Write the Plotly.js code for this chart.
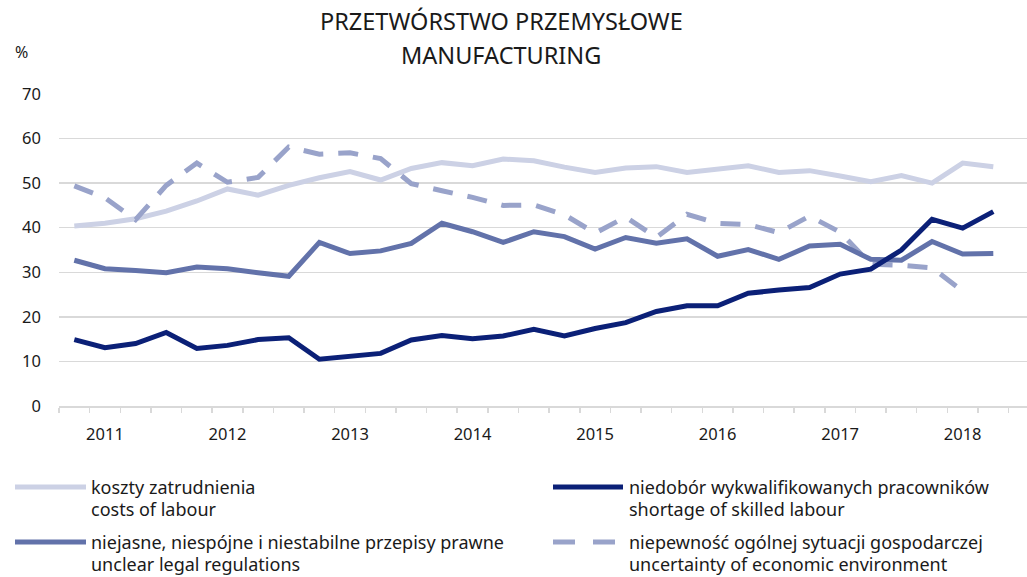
<!DOCTYPE html>
<html>
<head>
<meta charset="utf-8">
<script src="https://cdn.plot.ly/plotly-3.0.1.min.js"></script>
<style>html,body{margin:0;padding:0;background:#fff}#chart{width:1027px;height:577px}</style>
</head>
<body>
<div id="chart"></div>
<script>
// Quarters 2010 Q4 .. 2018 Q2
const quarters = ["2010 Q4",
  "2011 Q1","2011 Q2","2011 Q3","2011 Q4",
  "2012 Q1","2012 Q2","2012 Q3","2012 Q4",
  "2013 Q1","2013 Q2","2013 Q3","2013 Q4",
  "2014 Q1","2014 Q2","2014 Q3","2014 Q4",
  "2015 Q1","2015 Q2","2015 Q3","2015 Q4",
  "2016 Q1","2016 Q2","2016 Q3","2016 Q4",
  "2017 Q1","2017 Q2","2017 Q3","2017 Q4",
  "2018 Q1","2018 Q2"];
const yearLabels = ["2011","2012","2013","2014","2015","2016","2017","2018"];

const costsOfLabour = [40.4,41.0,42.0,43.7,46.0,48.7,47.3,49.5,51.2,52.6,50.7,53.3,54.6,53.9,55.4,55.0,53.6,52.4,53.4,53.7,52.4,53.1,53.9,52.4,52.8,51.6,50.3,51.7,50.0,54.5,53.7];
const skilledShortage = [14.9,13.1,14.0,16.5,12.9,13.6,14.9,15.3,10.5,11.2,11.8,14.8,15.8,15.1,15.7,17.2,15.7,17.4,18.7,21.2,22.5,22.5,25.3,26.0,26.6,29.6,30.7,35.0,41.9,39.9,43.6];
const unclearRegulations = [32.7,30.8,30.4,29.9,31.2,30.8,29.9,29.1,36.7,34.2,34.8,36.5,41.0,39.1,36.7,39.1,38.0,35.2,37.8,36.5,37.5,33.6,35.1,32.9,35.9,36.3,32.9,32.7,36.9,34.1,34.2];
const economicUncertainty = [49.4,46.7,41.8,49.5,54.5,50.2,51.3,58.1,56.5,56.8,55.5,49.9,48.3,46.8,45.0,45.1,42.9,38.8,42.4,37.8,43.0,41.0,40.7,38.9,42.6,39.0,31.8,31.6,31.0,25.8,null];

const titleLines = ["PRZETWÓRSTWO PRZEMYSŁOWE","MANUFACTURING"];
const unitLabel = "%";
const seriesNamesPL = ["koszty zatrudnienia","niedobór wykwalifikowanych pracowników","niejasne, niespójne i niestabilne przepisy prawne","niepewność ogólnej sytuacji gospodarczej"];
const seriesNamesEN = ["costs of labour","shortage of skilled labour","unclear legal regulations","uncertainty of economic environment"];
const seriesColors = ["#ccd1e5","#0b2077","#6272aa","#99a3ca"];
const seriesDash = ["solid","solid","solid","20px,15px"];
const seriesValues = [costsOfLabour, skilledShortage, unclearRegulations, economicUncertainty];

const xIdx = quarters.map((_, i) => i);
const yearTickVals = yearLabels.map(y => quarters.indexOf(y + " Q1"));
const boundaryTicks = quarters.map((_, i) => i - 0.5).concat([quarters.length - 0.5]);

const traces = seriesValues.map((vals, k) => ({
  type: "scatter", mode: "lines", x: xIdx, y: vals,
  name: seriesNamesPL[k],
  line: {color: seriesColors[k], width: 5, dash: seriesDash[k]},
  showlegend: false, hoverinfo: "skip"
}));
const order = [0, 3, 2, 1];
const data = order.map(k => traces[k]);

const W = 1027, H = 577;
const mL = 59, mR = 0, mT = 94, mB = 171;
const pw = W - mL - mR, ph = H - mT - mB;
const px = v => (v - mL) / pw;
const py = v => (H - mB - v) / ph;

const txtColor = "#1a1a1a";
const shapes = [];
const annotations = [];
const legendPos = [
  {k: 0, x0: 15, x1: 86, y: 487, tx: 92},
  {k: 1, x0: 553, x1: 623, y: 487, tx: 630},
  {k: 2, x0: 15, x1: 86, y: 542, tx: 92},
  {k: 3, x0: 553, x1: 623, y: 542, tx: 630}
];
legendPos.forEach(p => {
  shapes.push({type: "line", xref: "paper", yref: "paper",
    x0: px(p.x0), x1: px(p.x1), y0: py(p.y), y1: py(p.y),
    line: {color: seriesColors[p.k], width: 5, dash: p.k === 3 ? "22px,18px" : "solid"}});
  [seriesNamesPL[p.k], seriesNamesEN[p.k]].forEach((t, j) => {
    annotations.push({xref: "paper", yref: "paper", x: px(p.tx - 3), y: py(p.y + j * 21.5),
      xanchor: "left", yanchor: "middle", align: "left", showarrow: false,
      text: t, font: {family: "Noto Sans", size: 18, color: txtColor}});
  });
});
annotations.push({xref: "paper", yref: "paper", x: px(21), y: py(52),
  xanchor: "center", yanchor: "middle", showarrow: false, text: unitLabel,
  font: {family: "Noto Sans", size: 16, color: txtColor}});
titleLines.forEach((t, j) => {
  annotations.push({xref: "paper", yref: "paper", x: px(501), y: py(21 + j * 34),
    xanchor: "center", yanchor: "middle", showarrow: false, text: t,
    font: {family: "Noto Sans", size: 23.5, color: txtColor}});
});

const layout = {
  width: W, height: H,
  margin: {l: mL, r: mR, t: mT, b: mB},
  paper_bgcolor: "#ffffff", plot_bgcolor: "#ffffff",
  xaxis: {
    range: [-0.5, 31.1], showgrid: false, zeroline: false,
    showline: true, linecolor: "#d9d9d9", linewidth: 2,
    tickmode: "array", tickvals: yearTickVals, ticktext: yearLabels,
    ticks: "", ticklabelstandoff: 12,
    tickfont: {family: "Noto Sans", size: 16.5, color: txtColor},
    minor: {tickmode: "array", tickvals: boundaryTicks, ticks: "outside", ticklen: 5, tickwidth: 1.5, tickcolor: "#d9d9d9", showgrid: false},
    fixedrange: true
  },
  yaxis: {
    range: [0, 70], dtick: 10, tick0: 0,
    showgrid: true, gridcolor: "#d9d9d9", gridwidth: 1.5,
    zeroline: false, showline: false, ticks: "",
    ticklabelstandoff: 17,
    tickfont: {family: "Noto Sans", size: 16.5, color: txtColor},
    fixedrange: true
  },
  shapes: shapes,
  annotations: annotations,
  showlegend: false
};

Plotly.newPlot("chart", data, layout, {displayModeBar: false, staticPlot: true});
</script>
</body>
</html>
